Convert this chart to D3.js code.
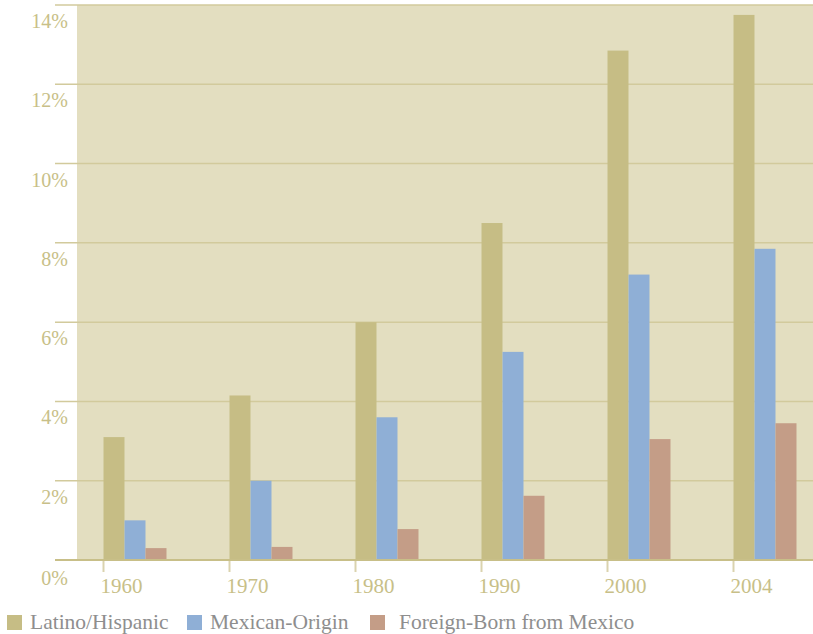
<!DOCTYPE html>
<html>
<head>
<meta charset="utf-8">
<title>Latino population share</title>
<style>
  body { margin: 0; background: #fff; }
  text { font-family: "Liberation Serif", "DejaVu Serif", serif; }
</style>
</head>
<body>
<svg id="viz" width="813" height="634"></svg>
<script src="https://d3js.org/d3.v7.min.js"></script>
<script>
// chart data (percent of US population)
var years = ["1960", "1970", "1980", "1990", "2000", "2004"];
var seriesNames = ["Latino/Hispanic", "Mexican-Origin", "Foreign-Born from Mexico"];
var latino = [3.1, 4.15, 6.0, 8.5, 12.85, 13.75];
var mexican = [1.0, 2.0, 3.6, 5.25, 7.2, 7.85];
var foreignBorn = [0.3, 0.33, 0.78, 1.62, 3.05, 3.45];
var yTicks = [0, 2, 4, 6, 8, 10, 12, 14];
var colors = ["#c6bd85", "#8fafd6", "#c49d87"];

var svg = d3.select("#viz");
var plotLeft = 77, plotRight = 813, plotTop = 5, plotBottom = 560;

var y = d3.scaleLinear().domain([0, 14]).range([plotBottom, plotTop]);
// group start positions (tick sits at left edge of each group)
var x0 = d3.scalePoint().domain(years).range([103.5, 733.5]);
var x1 = d3.scaleBand().domain([0, 1, 2]).range([0, 63]);

// plot background
svg.append("rect")
  .attr("x", plotLeft).attr("y", plotTop)
  .attr("width", plotRight - plotLeft).attr("height", plotBottom - plotTop)
  .attr("fill", "#e3dec0");

// gridlines + y labels
svg.selectAll(".grid").data(yTicks.filter(function(d){ return d > 0; }))
  .enter().append("line")
  .attr("class", "grid")
  .attr("x1", 55).attr("x2", plotRight)
  .attr("y1", function(d){ return y(d); })
  .attr("y2", function(d){ return y(d); })
  .attr("stroke", "#d2ca9c").attr("stroke-width", 1.5);

svg.selectAll(".ylab").data(yTicks)
  .enter().append("text")
  .attr("class", "ylab")
  .attr("x", 68)
  .attr("y", function(d){ return y(d) + (d == 0 ? 25 : 23); })
  .attr("text-anchor", "end")
  .attr("font-size", 20)
  .attr("fill", "#c8bf88")
  .text(function(d){ return d + "%"; });

// bars
var data = years.map(function(yr, i){
  return { year: yr, vals: [latino[i], mexican[i], foreignBorn[i]] };
});
var groups = svg.selectAll(".grp").data(data)
  .enter().append("g")
  .attr("class", "grp")
  .attr("transform", function(d){ return "translate(" + x0(d.year) + ",0)"; });

groups.selectAll("rect").data(function(d){ return d.vals; })
  .enter().append("rect")
  .attr("x", function(d, i){ return x1(i); })
  .attr("width", x1.bandwidth())
  .attr("y", function(d){ return y(d); })
  .attr("height", function(d){ return plotBottom - y(d); })
  .attr("fill", function(d, i){ return colors[i]; });

// baseline
svg.append("line")
  .attr("x1", 55).attr("x2", plotRight)
  .attr("y1", plotBottom).attr("y2", plotBottom)
  .attr("stroke", "#c8bf88").attr("stroke-width", 2);

// x ticks + labels
svg.selectAll(".xtick").data(years)
  .enter().append("line")
  .attr("x1", function(d){ return x0(d); })
  .attr("x2", function(d){ return x0(d); })
  .attr("y1", plotBottom + 1).attr("y2", 572)
  .attr("stroke", "#dad3ae").attr("stroke-width", 2);

svg.selectAll(".xlab").data(years)
  .enter().append("text")
  .attr("x", function(d){ return x0(d) - 3; })
  .attr("y", 593)
  .attr("font-size", 21)
  .attr("fill", "#c8bf88")
  .text(function(d){ return d; });

// legend
var legendX = [7, 187, 370];
var legend = svg.selectAll(".leg").data(seriesNames)
  .enter().append("g")
  .attr("transform", function(d, i){ return "translate(" + legendX[i] + ",615)"; });
legend.append("rect")
  .attr("width", 15).attr("height", 15)
  .attr("fill", function(d, i){ return colors[i]; });
legend.append("text")
  .attr("x", function(d, i){ return i == 2 ? 29 : 23; })
  .attr("y", 14)
  .attr("font-size", 21.5)
  .attr("fill", "#8e8e8e")
  .text(function(d){ return d; });
</script>
</body>
</html>
